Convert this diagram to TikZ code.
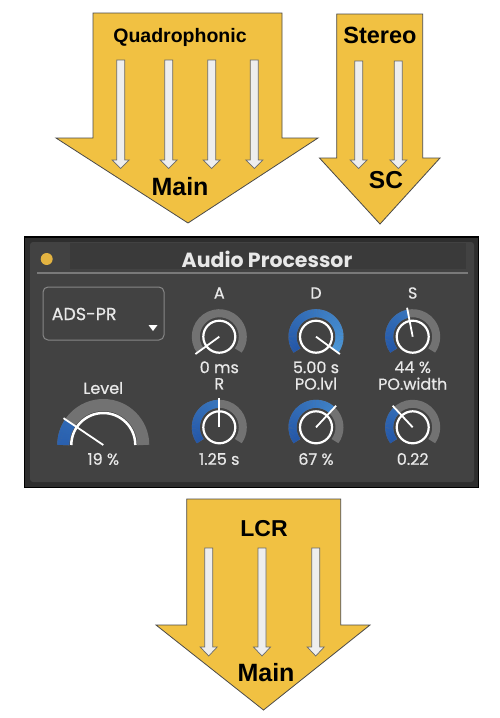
\documentclass[tikz,border=0pt]{standalone}
\usepackage{fontspec}
\setmainfont{Liberation Sans}
\newfontfamily\pfont[FakeBold=0.6]{Poppins}
\newfontfamily\ptfont{Poppins}
\definecolor{ayellow}{HTML}{F1C142}
\definecolor{aedge}{HTML}{4A4A4A}
\definecolor{sfill}{HTML}{EEEEEE}
\definecolor{sedge}{HTML}{6A6A6A}
\definecolor{pouter}{HTML}{2E2E2E}
\definecolor{pinner}{HTML}{424242}
\definecolor{ptitle}{HTML}{3A3A3A}
\definecolor{psep}{HTML}{7A7A7A}
\definecolor{ptext}{HTML}{E8E8E8}
\definecolor{kgrey}{HTML}{727272}
\definecolor{kdark}{HTML}{2457A8}
\definecolor{klight}{HTML}{4C98D8}
\definecolor{dotyellow}{HTML}{E3B341}
\tikzset{
  bigarrow/.style={fill=ayellow, draw=aedge, line width=0.8pt, line join=miter},
  smallarrow/.style={fill=sfill, draw=sedge, line width=0.7pt, line join=miter},
  alabel/.style={inner sep=0pt, text=black, font=\bfseries\fontsize{#1}{#1}\selectfont},
  plabel/.style={inner sep=0pt, text=ptext, font=\pfont\fontsize{#1}{#1}\selectfont},
}
\newcommand\sarrow[4]{% x, ytop, yhead, ytip (y downward)
  \draw[smallarrow] (#1-4,-#2) -- (#1+4,-#2) -- (#1+4,-#3) -- (#1+8.5,-#3) -- (#1,-#4)
    -- (#1-8.5,-#3) -- (#1-4,-#3) -- cycle;}
\newcommand\bluearc[4]{% radius, width, start, end
  \pgfmathsetmacro\kspan{(#3)-(#4)}
  \pgfmathsetmacro\nseg{max(1,int(ceil(\kspan/3)))}
  \pgfmathsetmacro\kstep{\kspan/\nseg}
  \foreach \i in {1,...,\nseg}{
    \pgfmathsetmacro\aa{(#3)-(\i-1)*\kstep}
    \pgfmathsetmacro\ab{max((#4),(#3)-\i*\kstep-0.6)}
    \pgfmathsetmacro\pc{int(100*((216-(\aa))/252))}
    \draw[line width=#2, draw=klight!\pc!kdark] (\aa:#1) arc[start angle=\aa, end angle=\ab, radius=#1];
  }}
\newcommand\knobbase[2]{% x, y
  \draw[kgrey, line width=8] (#1,-#2) ++(216:23.5) arc[start angle=216, end angle=-36, radius=23.5];}
\newcommand\knobtop[3]{% x, y, value angle
  \draw[white, line width=2.2] (#1,-#2) circle[radius=16];
  \draw[white, line width=1.8] (#1,-#2) -- ++(#3:29.5);}
\begin{document}
\begin{tikzpicture}[x=1pt,y=1pt]
\useasboundingbox (0,0) rectangle (500,-718);
% ---------- Quadrophonic arrow
\draw[bigarrow] (93,-13) -- (282,-13) -- (282,-138) -- (318,-138) -- (188,-223)
  -- (56,-138) -- (93,-138) -- cycle;
\foreach \x in {120.7,168.7,211.7,254.3} {\sarrow{\x}{60}{160}{168.5}}
\node[alabel=19.5] (quad) at (180,-37) {Quadrophonic};
\node[alabel=25] (main1) at (180,-187) {Main};
% ---------- Stereo arrow
\draw[bigarrow] (336.7,-14) -- (422.7,-14) -- (422.7,-158) -- (440,-158) -- (380,-224)
  -- (319.5,-158) -- (336.7,-158) -- cycle;
\foreach \x in {358.7,398.3} {\sarrow{\x}{61}{160}{168.5}}
\node[alabel=23.5] (stereo) at (380,-35) {Stereo};
\node[alabel=24.5] (sc) at (386,-180) {SC};
% ---------- panel
\draw[fill=pouter, draw=black, line width=1.5] (24.5,-237) rectangle (478.5,-487.5);
\fill[pinner, rounded corners=3] (30,-242) rectangle (474,-482);
\fill[ptitle] (70,-243) rectangle (466,-269);
\draw[psep, line width=1.5] (37,-273) -- (468,-273);
\fill[dotyellow] (46.7,-259) circle[radius=6];
\node[inner sep=0pt, text=ptext, font=\ptfont\bfseries\fontsize{20.5}{20.5}\selectfont] (title) at (267,-259) {Audio Processor};
% dropdown
\draw[psep!90!white, line width=1, rounded corners=5] (43,-287) rectangle (164,-340);
\node[plabel=17.5, anchor=west] (ads) at (51.5,-314) {ADS-PR};
\fill[white] (148.5,-325) -- (157.5,-325) -- (153,-331) -- cycle;
% knob labels
\node[plabel=16] (la) at (219.3,-293) {A};
\node[plabel=16] (ld) at (316,-293) {D};
\node[plabel=16] (ls) at (412.7,-293) {S};
\node[plabel=16] (va) at (219.3,-367.3) {0 ms};
\node[plabel=16] (vd) at (316,-367.3) {5.00 s};
\node[plabel=16] (vs) at (412.7,-367.3) {44 \%};
\node[plabel=16] (lr) at (219.3,-383.7) {R};
\node[plabel=16] (lpl) at (316,-383.7) {PO.lvl};
\node[plabel=16] (lpw) at (412.7,-383.7) {PO.width};
\node[plabel=16] (vr) at (219.3,-459) {1.25 s};
\node[plabel=16] (vpl) at (316,-459) {67 \%};
\node[plabel=16] (vpw) at (412.7,-459) {0.22};
\node[plabel=16] (llev) at (103.3,-388) {Level};
\node[plabel=16] (vlev) at (103.3,-459) {19 \%};
% knobs row 1
\knobbase{219.3}{336.7}
\knobtop{219.3}{336.7}{216}
\knobbase{316}{336.7}
\begin{scope}[shift={(316,-336.7)}]\bluearc{23.5}{8}{216}{-36}\end{scope}
\knobtop{316}{336.7}{-36}
\knobbase{412.7}{336.7}
\begin{scope}[shift={(412.7,-336.7)}]\bluearc{23.5}{8}{216}{101}\end{scope}
\knobtop{412.7}{336.7}{101}
% knobs row 2
\knobbase{219.3}{427.3}
\begin{scope}[shift={(219.3,-427.3)}]\bluearc{23.5}{8}{216}{90}\end{scope}
\knobtop{219.3}{427.3}{90}
\knobbase{316}{427.3}
\begin{scope}[shift={(316,-427.3)}]\bluearc{23.5}{8}{216}{47}\end{scope}
\knobtop{316}{427.3}{47}
\knobbase{412.7}{427.3}
\begin{scope}[shift={(412.7,-427.3)}]\bluearc{23.5}{8}{216}{133}\end{scope}
\knobtop{412.7}{427.3}{133}
% level dial
\begin{scope}[shift={(103.3,-445)}]
  \draw[kgrey, line width=12] (180:40) arc[start angle=180, end angle=0, radius=40];
  \bluearc{40}{12}{180}{146}
  \draw[white, line width=2.5] (180:32) arc[start angle=180, end angle=0, radius=32];
  \draw[white, line width=1.8] (0,0) -- (146:48);
\end{scope}
% ---------- LCR arrow
\draw[bigarrow] (186.7,-499) -- (340.7,-499) -- (340.7,-625) -- (370,-625) -- (263.5,-710)
  -- (156,-625) -- (186.7,-625) -- cycle;
\foreach \x in {208.7,262,315.7} {\sarrow{\x}{548}{647}{656}}
\node[alabel=23] (lcr) at (264,-529) {LCR};
\node[alabel=25] (main2) at (266,-673) {Main};
\end{tikzpicture}
\end{document}
